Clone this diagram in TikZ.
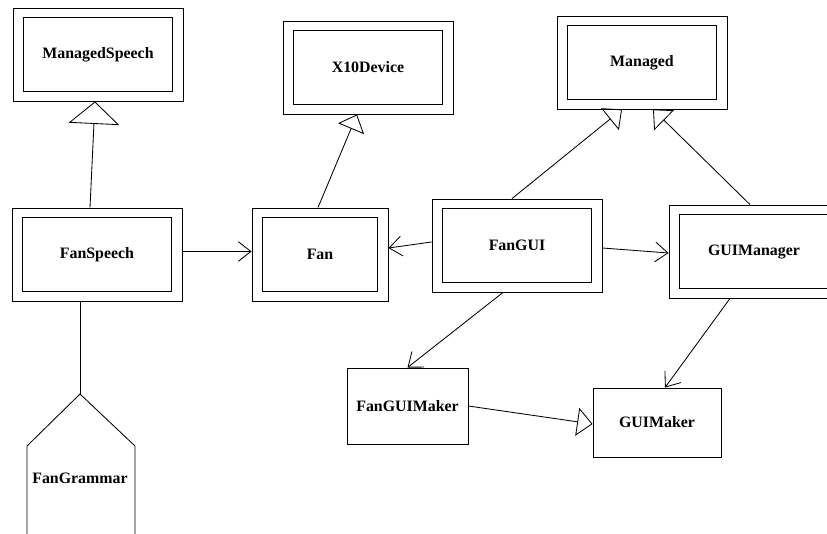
\documentclass[tikz,border=0pt]{standalone}
\usepackage{fontspec}
\setmainfont{Liberation Serif}
\usepackage{tikz}
\usetikzlibrary{arrows.meta, calc}
\tikzset{
    classbox/.style={
        rectangle,
        draw=black,
        line width=0.6pt,
        font=\fontsize{11.3}{13}\selectfont\bfseries,
        minimum width=4.25cm,
        minimum height=2.325cm,
        path picture={
            \draw[line width=0.6pt]
              ([shift={(0.27cm,0.23cm)}]path picture bounding box.south west)
              rectangle
              ([shift={(-0.27cm,-0.23cm)}]path picture bounding box.north east);
        },
    },
    plainbox/.style={
        rectangle,
        draw=black,
        line width=0.6pt,
        font=\fontsize{11.3}{13}\selectfont\bfseries,
    },
    uses/.style={
        line width=0.6pt,
        -{Straight Barb[length=9pt,width=14pt,line width=0.6pt]},
    },
    extends/.style={
        line width=0.6pt,
        -{Triangle[open,length=11pt,width=20pt,line width=0.6pt]},
    },
    extendsbig/.style={
        line width=0.6pt,
        -{Triangle[open,length=16pt,width=36pt,line width=0.6pt]},
    },
}

\begin{document}
\begin{tikzpicture}[x=0.025cm,y=-0.025cm]
      \useasboundingbox (0,0) rectangle (827,533);
      \clip (0,0) rectangle (827,533);

      \node [classbox] (ManagedSpeech) at (98,54.5) {ManagedSpeech};
      \node [classbox] (X10Device) at (368,67.5) {X10Device};
      \node [classbox] (Managed) at (642,62.5) {Managed};

      \node [classbox] (FanSpeech) at (97,254.5) {FanSpeech};
      \node [classbox, minimum width=3.4cm] (Fan) at (320,254.5) {Fan};
      \node [classbox] (FanGUI) at (517,245.5) {FanGUI};
      \node [classbox] (GUIManager) at (754,251.5) {GUIManager};

      \node [plainbox, minimum width=3.025cm, minimum height=1.9cm] (FanGUIMaker) at (407.5,406) {FanGUIMaker};
      \node [plainbox, minimum width=3.2cm, minimum height=1.725cm] (GUIMaker) at (657,422.5) {GUIMaker};

      % grammar shape at the bottom left
      \coordinate (grammar-top) at (80,394);
      \coordinate (grammar-left) at (27,446);
      \coordinate (grammar-right) at (135,446);
      \draw[line width=0.6pt] ($(grammar-left)+(0,100)$) -- (grammar-left) -- (grammar-top)
            -- (grammar-right) -- ($(grammar-right)+(0,100)$);
      \node [font=\fontsize{11.3}{13}\selectfont\bfseries] (FanGrammar) at (80,478) {FanGrammar};

      \path[extendsbig] ($(FanSpeech.north)+(-7,0)$) edge ($(ManagedSpeech.south)+(-3,0)$);
      \path[extends] ($(Fan.north)+(-2,0)$) edge ($(X10Device.south)+(-11,0)$);
      \path[extends] ($(FanGUI.north)+(-5,0)$) edge ($(Managed.south)+(-20,0)$);
      \path[extends] ($(GUIManager.north)+(-4,0)$) edge ($(Managed.south)+(11,0)$);
      \path[extends] (FanGUIMaker.east) edge ($(GUIMaker.west)+(0,1.5)$);

      \path[uses] ($(FanSpeech.east)+(0,-3)$) edge ($(Fan.west)+(0,-3)$);
      \path[uses] ($(FanGUI.west)+(0,-3.5)$) edge ($(Fan.east)+(0,-6.5)$);
      \path[uses] ($(FanGUI.east)+(0,2.5)$) edge ($(GUIManager.west)+(0,1.5)$);
      \path[uses] ($(FanGUI.south)+(-14,0)$) edge (FanGUIMaker.north);
      \path[uses] ($(GUIManager.south)+(-24,0)$) edge ($(GUIMaker.north)+(8,0)$);

      \path[draw, line width=0.6pt] (FanSpeech.south -| grammar-top) -- (grammar-top);

    \end{tikzpicture}
\end{document}
